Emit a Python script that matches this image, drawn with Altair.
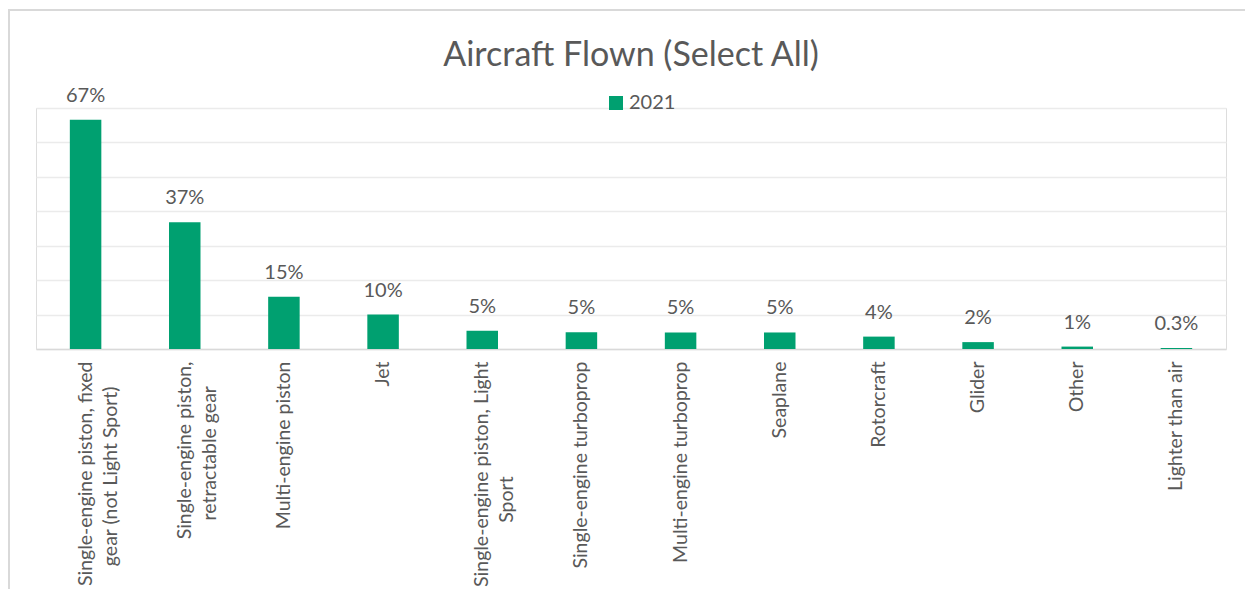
import altair as alt
import pandas as pd

# ---- data ----
categories = [
    "Single-engine piston, fixed|gear (not Light Sport)",
    "Single-engine piston,|retractable gear",
    "Multi-engine piston",
    "Jet",
    "Single-engine piston, Light|Sport",
    "Single-engine turboprop",
    "Multi-engine turboprop",
    "Seaplane",
    "Rotorcraft",
    "Glider",
    "Other",
    "Lighter than air",
]
values = [66.6, 36.8, 15.2, 10.0, 5.3, 4.9, 4.8, 4.8, 3.6, 2.0, 0.7, 0.3]
value_labels = ["67%", "37%", "15%", "10%", "5%", "5%", "5%", "5%", "4%", "2%", "1%", "0.3%"]
series = "2021"
title_text = "Aircraft Flown (Select All)"
grid_values = [0, 10, 20, 30, 40, 50, 60, 70]

df = pd.DataFrame({
    "category": categories,
    "value": values,
    "label": value_labels,
    "series": [series] * len(categories),
})

GREEN = "#00A070"
TEXT = "#595959"
FONT = "Lato"
NB = "\u00a0"
ZW = "\u200b"

W, H = 1190, 241
PAD = {"left": 28, "top": 100, "right": 19, "bottom": 240}

# two-line labels: second line centred under the first (Excel style),
# done by padding the shorter line with no-break spaces (closed by a
# zero-width space so the padding is not trimmed away)
S = "split(datum.label, '|')"
label_expr = (
    f"length({S}) > 1 ? "
    f"[{S}[0], {S}[1] + pad('', round((length({S}[0]) - length({S}[1])) * 1.05), '{NB}') + '{ZW}']"
    f" : datum.label"
)

x_enc = alt.X(
    "category:N",
    sort=None,
    scale=alt.Scale(paddingInner=0.68, paddingOuter=0.34),
    axis=alt.Axis(
        title=None,
        labelAngle=270,
        labelExpr=label_expr,
        labelFont=FONT,
        labelFontSize=19.5,
        labelColor=TEXT,
        labelLineHeight=25,
        labelPadding=12,
        labelLimit=400,
        ticks=False,
        tickSize=0,
        domainColor="#D9D9D9",
        domainWidth=1.5,
        grid=False,
    ),
)
y_enc = alt.Y(
    "value:Q",
    scale=alt.Scale(domain=[0, 70], nice=False, zero=True),
    axis=alt.Axis(
        title=None,
        labels=False,
        ticks=False,
        domain=False,
        grid=True,
        values=grid_values,
        gridColor="#EBEBEB",
        gridWidth=1.5,
    ),
)

base = alt.Chart(df).encode(x=x_enc, y=y_enc)

bars = base.mark_bar(size=31.5).encode(
    color=alt.Color(
        "series:N",
        scale=alt.Scale(range=[GREEN]),
        legend=alt.Legend(
            title=None,
            orient="none",
            legendX=570,
            legendY=-15,
            symbolType="square",
            symbolSize=196,
            symbolStrokeWidth=0,
            labelFont=FONT,
            labelFontSize=20,
            labelColor=TEXT,
            labelOffset=3,
        ),
    )
)

texts = base.mark_text(
    dy=-18, baseline="alphabetic", font=FONT, fontSize=20, color=TEXT
).encode(text="label:N")

frame_top = alt.Chart(df).mark_rule(color="#D9D9D9", strokeWidth=1.5).encode(
    x=alt.value(-28), x2=alt.value(W + PAD["right"]), y=alt.value(-98)
)
frame_left = alt.Chart(df).mark_rule(color="#D9D9D9", strokeWidth=1.5).encode(
    x=alt.value(-27.2), y=alt.value(-98), y2=alt.value(H + PAD["bottom"])
)

chart = (
    alt.layer(frame_top, frame_left, bars, texts)
    .properties(
        width=W,
        height=H,
        padding=PAD,
        autosize=alt.AutoSizeParams(type="none"),
        title=alt.TitleParams(
            title_text,
            font=FONT,
            fontSize=34,
            fontWeight="normal",
            color=TEXT,
            anchor="middle",
            baseline="alphabetic",
            dy=95,
        ),
    )
    .configure_view(stroke=None)
    .configure(background="white")
)

chart.save("out.html", embed_options={"renderer": "svg", "actions": False})
